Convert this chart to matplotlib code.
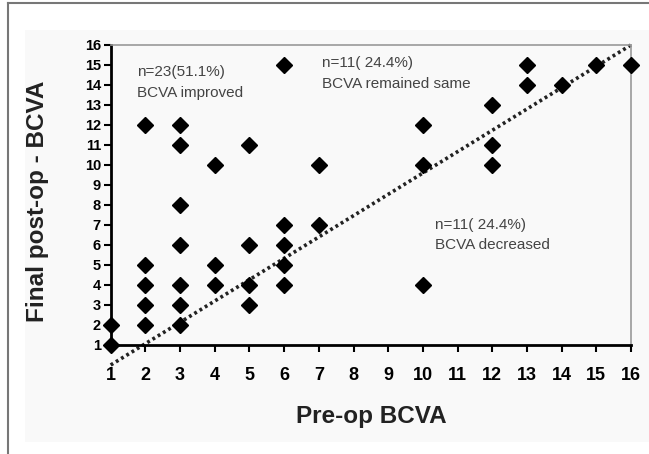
import matplotlib
matplotlib.use("Agg")
import matplotlib.pyplot as plt
from matplotlib.patches import Rectangle
from matplotlib.lines import Line2D

plt.rcParams['font.family'] = ['Liberation Sans', 'DejaVu Sans']

# Data
pre_op = [1, 1,
          2, 2, 2, 2, 2,
          3, 3, 3, 3, 3, 3, 3,
          4, 4, 4,
          5, 5, 5, 5,
          6, 6, 6, 6, 6,
          7, 7,
          10, 10, 10,
          12, 12, 12,
          13, 13,
          14, 15, 16]
post_op = [1, 2,
           12, 5, 4, 3, 2,
           12, 11, 8, 6, 4, 3, 2,
           10, 5, 4,
           11, 6, 4, 3,
           15, 7, 6, 5, 4,
           10, 7,
           12, 10, 4,
           13, 11, 10,
           15, 14,
           14, 15, 15]
trend_x = [1, 16]
trend_y = [0.0, 16.0]
ticks = list(range(1, 17))
annotations = [
    (1.75, 14.65, "n=23(51.1%)"),
    (1.75, 13.6, "BCVA improved"),
    (7.1, 15.1, "n=11( 24.4%)"),
    (7.1, 14.05, "BCVA remained same"),
    (10.35, 7.0, "n=11( 24.4%)"),
    (10.35, 6.0, "BCVA decreased"),
]

W, H = 649, 454
fig = plt.figure(figsize=(W / 100, H / 100), dpi=100)
fig.patch.set_facecolor('white')

# faint background panel and outer frame
fig.add_artist(Rectangle((25 / W, 1 - 442 / H), (W - 25) / W, (442 - 30) / H,
                         transform=fig.transFigure, facecolor='#f9f9f9',
                         edgecolor='none', zorder=0))
fig.add_artist(Line2D([7.5 / W, 1.0], [1 - 2.5 / H, 1 - 2.5 / H],
                      transform=fig.transFigure, color='#777777', lw=1.5))
fig.add_artist(Line2D([7.5 / W, 7.5 / W], [0, 1 - 2.5 / H],
                      transform=fig.transFigure, color='#777777', lw=1.5))

left, right, top, bottom = 110.7, 631, 45, 345
ax = fig.add_axes([left / W, 1 - bottom / H, (right - left) / W, (bottom - top) / H])
ax.set_facecolor('none')

ax.plot(trend_x, trend_y, color='#222222', lw=2.6, linestyle=(0, (0.8, 0.9)),
        clip_on=False, zorder=2)
ax.plot(pre_op, post_op, linestyle='none', marker='D', markersize=7.8,
        color='black', clip_on=False, zorder=3)

ax.set_xlim(1, 16)
ax.set_ylim(1, 16)
ax.set_xticks(ticks)
ax.set_yticks(ticks)

for s in ['left', 'bottom']:
    ax.spines[s].set_linewidth(2)
    ax.spines[s].set_color('black')
for s in ['top', 'right']:
    ax.spines[s].set_linewidth(1.2)
    ax.spines[s].set_color('#999999')

ax.tick_params(axis='y', direction='out', length=5, width=1.5, pad=2,
               labelsize=10.5, colors='black')
ax.tick_params(axis='x', direction='out', length=5, width=1.5, pad=11,
               labelsize=13, colors='black')
for lab in ax.get_xticklabels() + ax.get_yticklabels():
    lab.set_fontweight('bold')

ax.set_xlabel("Pre-op BCVA", fontsize=17.5, fontweight='bold', color='#222222')
ax.xaxis.set_label_coords(0.5, -0.2)
ax.set_ylabel("Final post-op - BCVA", fontsize=17.5, fontweight='bold', color='#222222')
ax.yaxis.set_label_coords(-0.118, 0.48)

for x, y, t in annotations:
    ax.text(x, y, t, fontsize=11, color='#444444', ha='left', va='center')

fig.savefig("out.png", dpi=100)
